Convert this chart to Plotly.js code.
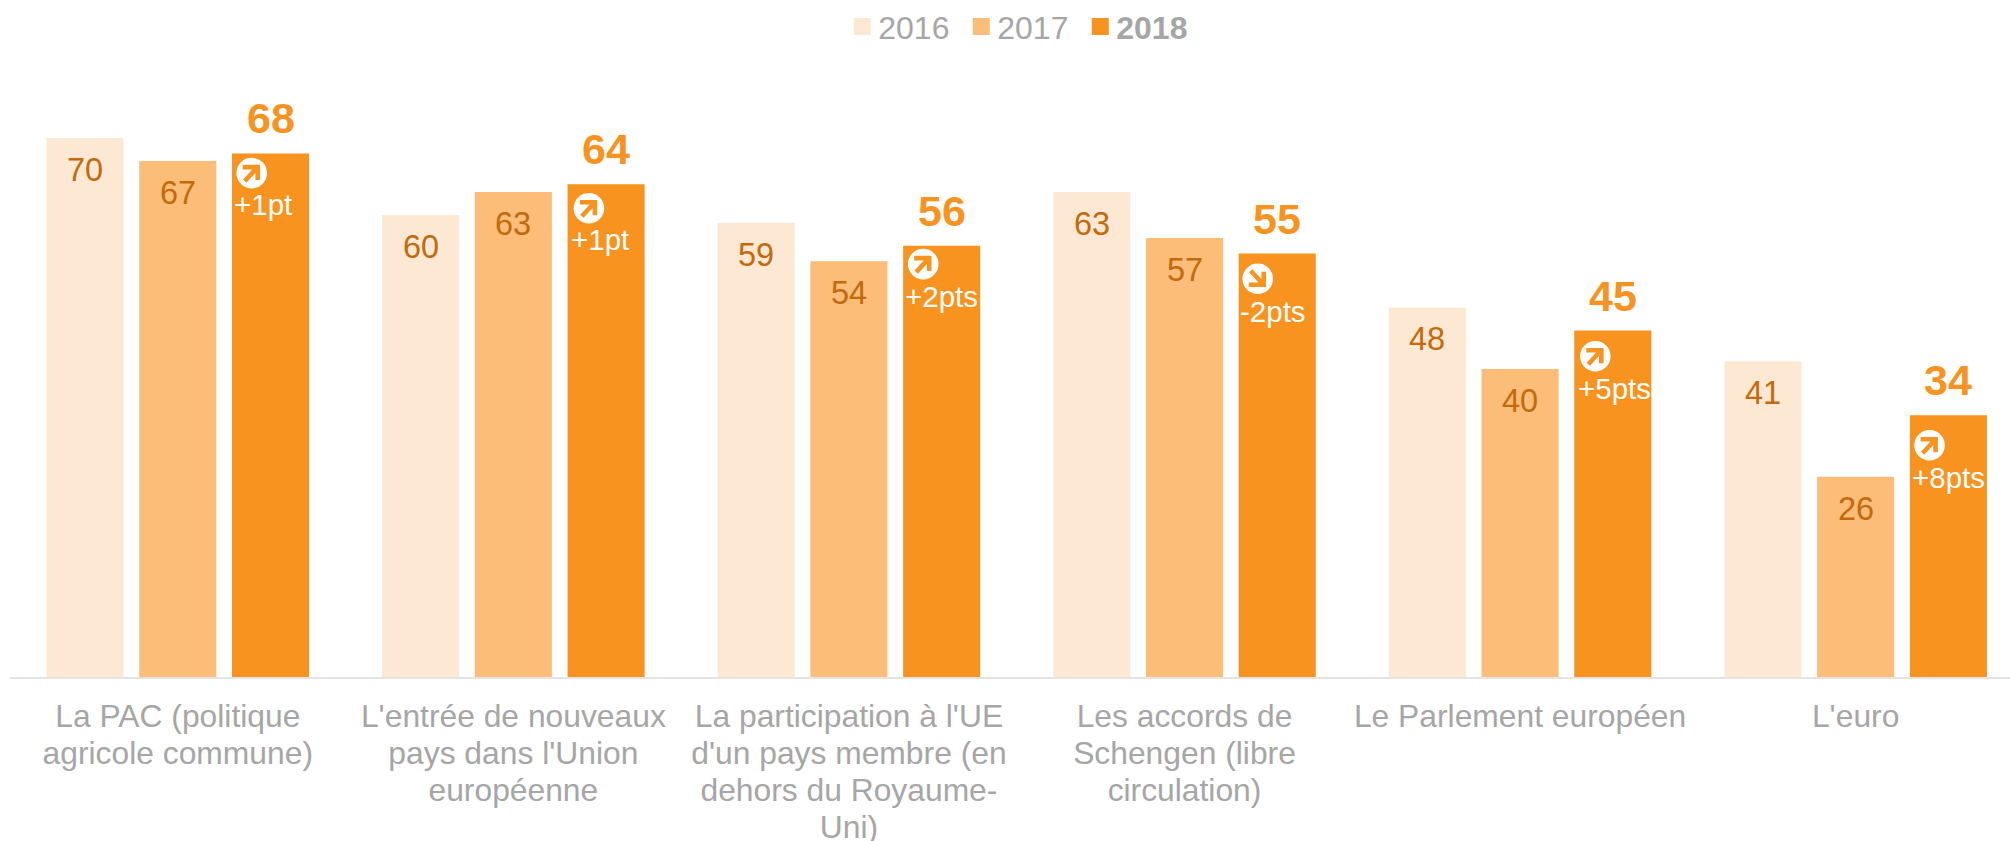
<!DOCTYPE html>
<html>
<head>
<meta charset="utf-8">
<script src="https://cdn.plot.ly/plotly-3.0.1.min.js"></script>
<style>html,body{margin:0;padding:0;background:#fff}</style>
</head>
<body>
<div id="chart" style="width:2010px;height:841px"></div>
<script>
var categories = ["La PAC (politique<br>agricole commune)", "L'entrée de nouveaux<br>pays dans l'Union<br>européenne", "La participation à l'UE<br>d'un pays membre (en<br>dehors du Royaume-<br>Uni)", "Les accords de<br>Schengen (libre<br>circulation)", "Le Parlement européen", "L'euro"];
var values2016 = [70, 60, 59, 63, 48, 41];
var values2017 = [67, 63, 54, 57, 40, 26];
var values2018 = [68, 64, 56, 55, 45, 34];
var deltas = ["+1pt", "+1pt", "+2pts", "-2pts", "+5pts", "+8pts"];
var directions = [1, 1, 1, -1, 1, 1];

// placement of the icon and the change text inside each 2018 bar (px from its top-left corner)
var iconLeft = [19.7, 21.3, 20, 19, 21, 19.7];
var iconDrop = [19.7, 24, 18.3, 25.3, 25.7, 30];
var noteLeft = [2, 3.2, 1.5, 1, 3.2, 2];
var noteDrop = [50.7, 55.6, 50.7, 57.7, 58, 62.3];

var C16 = "#FDE9D3", C17 = "#FBBD78", C18 = "#F7931E", LBL = "#C46A0C", GREY = "#A6A6A6";
var FONT = "Liberation Sans, Arial, sans-serif";
var idx = categories.map(function (_, i) { return i; });
var STEP = 0.2764, HALF = 38.5;

function bar(name, y, color) {
  return {type: "bar", name: name, x: idx, y: y, marker: {color: color, line: {width: 0}}, hoverinfo: "x+y"};
}
var traces = [bar("2016", values2016, C16), bar("2017", values2017, C17), bar("<b>2018</b>", values2018, C18)];

var annotations = [], shapes = [];
function note(x, y, text, size, color, yshift, xshift, anchor, bold) {
  annotations.push({x: x, y: y, xref: "x", yref: "y", text: bold ? "<b>" + text + "</b>" : text,
    showarrow: false, yanchor: "middle", xanchor: anchor || "center", yshift: yshift, xshift: xshift || 0,
    font: {family: FONT, size: size, color: color}, borderpad: 0, borderwidth: 0});
}
idx.forEach(function (i) {
  note(i - STEP, values2016[i], String(values2016[i]), 32.5, LBL, -32);
  note(i, values2017[i], String(values2017[i]), 32.5, LBL, -32);
  var xb = i + STEP, top = values2018[i];
  note(xb, top, String(top), 43, C18, 35, 0, "center", true);
  note(xb, top, deltas[i], 29.5, "#FFFFFF", -noteDrop[i], noteLeft[i] - HALF, "left");
  var cx = iconLeft[i] - HALF, cy = -iconDrop[i], d = directions[i], R = 15.3;
  shapes.push({type: "circle", xref: "x", yref: "y", xsizemode: "pixel", ysizemode: "pixel",
    xanchor: xb, yanchor: top, x0: cx - R, x1: cx + R, y0: cy - R, y1: cy + R, fillcolor: "#FFFFFF",
    line: {width: 0}, layer: "above"});
  function p(a, b) { return (cx + a) + "," + (cy + b * d); }
  shapes.push({type: "path", xref: "x", yref: "y", xsizemode: "pixel", ysizemode: "pixel",
    xanchor: xb, yanchor: top, layer: "above", fillcolor: "rgba(0,0,0,0)",
    path: "M" + p(-7, -8) + " L" + p(5, 5) + " M" + p(-9, 6) + " L" + p(6, 6) + " L" + p(6, -7),
    line: {color: C18, width: 4.6}});
});

var layout = {
  width: 2010, height: 841,
  margin: {l: 10.4, r: 0, t: 61, b: 164, pad: 0, autoexpand: false},
  paper_bgcolor: "#fff", plot_bgcolor: "#fff",
  barmode: "group", bargap: 0.171, bargroupgap: 0.169,
  showlegend: true,
  legend: {orientation: "h", x: (842.5 - 10.4) / 1999.6, xanchor: "left", y: 1.1004, yanchor: "top",
    font: {family: FONT, size: 32, color: GREY}, itemwidth: 30, traceorder: "normal", bgcolor: "rgba(0,0,0,0)"},
  xaxis: {type: "linear", range: [-0.5, 5.46], tickmode: "array", tickvals: idx, ticktext: categories,
    tickangle: 0, ticks: "outside", ticklen: 10, tickcolor: "rgba(0,0,0,0)", showgrid: false, zeroline: false,
    showline: true, linecolor: "#E4E4E4", linewidth: 2,
    tickfont: {family: FONT, size: 31.8, color: GREY}},
  yaxis: {range: [0, 80], visible: false, showgrid: false, zeroline: false},
  annotations: annotations, shapes: shapes
};

Plotly.newPlot("chart", traces, layout, {displayModeBar: false, responsive: false}).then(function (gd) {
  // tighter line spacing of the category labels, as in the reference
  gd.querySelectorAll(".xtick tspan.line").forEach(function (t) {
    var dy = parseFloat(t.getAttribute("dy"));
    if (dy) t.setAttribute("dy", (dy * 1.165 / 1.3) + "em");
  });
  // larger square legend swatches with a tight text gap
  gd.querySelectorAll(".legend .traces").forEach(function (g, i) {
    var y = (g.getAttribute("transform") || "").match(/,\s*([-\d.]+)/);
    g.setAttribute("transform", "translate(" + (119 * i) + "," + (y ? y[1] : 0) + ")");
    var path = g.querySelector(".legendpoints path");
    if (path) path.setAttribute("d", "M8.5,8.5H-8.5V-8.5H8.5Z");
    var text = g.querySelector("text.legendtext");
    if (text) text.setAttribute("x", 36);
  });
});
</script>
</body>
</html>
